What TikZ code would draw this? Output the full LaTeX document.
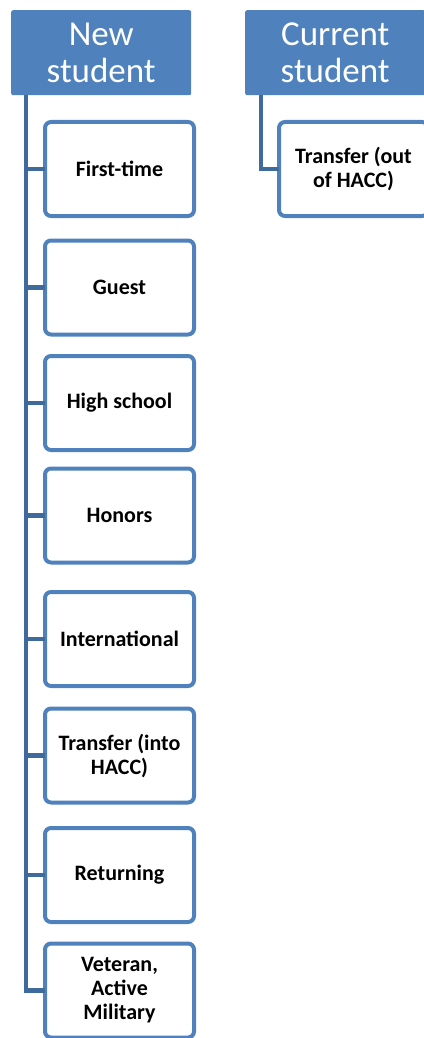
\documentclass[tikz,border=0pt]{standalone}
\usepackage{fontspec}
\setmainfont{Carlito}
\usepackage{xcolor}
\usetikzlibrary{positioning}
\definecolor{headblue}{RGB}{79,129,189}
\definecolor{linkblue}{RGB}{62,106,156}

\begin{document}
\begin{tikzpicture}[
    x=1pt, y=1pt,
    node distance=20pt,
    header/.style={rectangle, fill=headblue, text=white, minimum width=180pt, minimum height=85pt, inner sep=0pt, rounded corners=2pt, align=center, font=\fontsize{35}{37}\selectfont},
    item/.style={rectangle, draw=headblue, line width=4pt, fill=white, minimum width=149pt, minimum height=94pt, inner sep=0pt, outer sep=0pt, rounded corners=6pt, align=center, font=\fontsize{22}{24}\selectfont\bfseries},
    link/.style={draw=linkblue, line width=4.5pt}
]
\useasboundingbox (0,0) rectangle (423,-1038);

% Headers
\node[header, anchor=north west] (newhead) at (11,-10) {New\\student};
\node[header, anchor=north west] (curhead) at (245,-10) {Current\\student};

% New student branch
\node[item, anchor=north west] (first) at (45,-122) {First-time};
\node[item, below=24.5pt of first] (guest) {Guest};
\node[item, below=21.5pt of guest] (high) {High school};
\node[item, below=18.5pt of high] (honors) {Honors};
\node[item, below=29.5pt of honors] (intl) {International};
\node[item, below=22.5pt of intl] (into) {Transfer (into\\HACC)};
\node[item, below=25.5pt of into] (return) {Returning};
\node[item, below=21.5pt of return] (vet) {Veteran,\\Active\\Military};

% Current student branch
\node[item, anchor=north west] (outof) at (279,-122) {Transfer (out\\of HACC)};

% Connectors
\coordinate (spine) at (26,0);
\coordinate (spine2) at (261,0);
\draw[link] (newhead.south -| spine) |- (vet.west);
\foreach \n in {first, guest, high, honors, intl, into, return}
    \draw[link] (spine |- \n.west) -- (\n.west);
\draw[link] (curhead.south -| spine2) |- (outof.west);

\end{tikzpicture}
\end{document}
